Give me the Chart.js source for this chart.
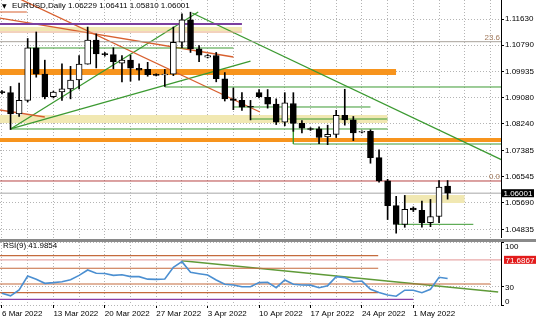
<!DOCTYPE html>
<html>
<head>
<meta charset="utf-8">
<script src="https://cdn.jsdelivr.net/npm/chart.js@4.4.1/dist/chart.umd.min.js"></script>
<style>
  html, body { margin: 0; padding: 0; background: #fff; }
  #wrap { width: 536px; height: 321px; overflow: hidden; }
  canvas { display: block; }
</style>
</head>
<body>
<div id="wrap">
  <canvas id="price" width="536" height="238"></canvas>
  <canvas id="rsi" width="536" height="83"></canvas>
</div>
<script>
"use strict";

// EURUSD daily, this feed has Sunday bars so one week = 6 bars
const barDates = ["6 Mar","7 Mar","8 Mar","9 Mar","10 Mar","11 Mar",
  "13 Mar","14 Mar","15 Mar","16 Mar","17 Mar","18 Mar",
  "20 Mar","21 Mar","22 Mar","23 Mar","24 Mar","25 Mar",
  "27 Mar","28 Mar","29 Mar","30 Mar","31 Mar","1 Apr",
  "3 Apr","4 Apr","5 Apr","6 Apr","7 Apr","8 Apr",
  "10 Apr","11 Apr","12 Apr","13 Apr","14 Apr","15 Apr",
  "17 Apr","18 Apr","19 Apr","20 Apr","21 Apr","22 Apr",
  "24 Apr","25 Apr","26 Apr","27 Apr","28 Apr","29 Apr",
  "1 May","2 May","3 May","4 May","5 May"];

const opens = [1.0927,1.0925,1.0856,1.0900,1.1070,1.0985,
  1.0912,1.0927,1.0937,1.0966,1.1017,1.1095,
  1.1050,1.1048,1.1020,1.1030,1.1004,1.1000,
  1.0983,1.0982,1.0985,1.1088,1.1160,1.1067,
  1.1040,1.1045,1.0970,1.0905,1.0900,1.0878,
  1.0925,1.0910,1.0888,1.0830,1.0890,1.0826,
  1.0808,1.0808,1.0782,1.0790,1.0852,1.0837,
  1.0797,1.0800,1.0715,1.0640,1.0560,1.0499,
  1.0552,1.0545,1.0505,1.0525,1.06229];
const highs = [1.0932,1.0945,1.0956,1.1100,1.1121,1.1030,
  1.0930,1.1018,1.1010,1.1045,1.1137,1.1115,
  1.1055,1.1070,1.1045,1.1046,1.1018,1.1023,
  1.0986,1.1000,1.1137,1.1180,1.1185,1.1077,
  1.1048,1.1055,1.0990,1.0940,1.0925,1.0900,
  1.0935,1.0935,1.0905,1.0925,1.0925,1.0835,
  1.0812,1.0815,1.0820,1.0868,1.0936,1.0848,
  1.0802,1.0805,1.0740,1.0645,1.0590,1.0593,
  1.0556,1.0575,1.0580,1.0641,1.06411];
const lows = [1.0921,1.0806,1.0848,1.0895,1.0975,1.0905,
  1.0908,1.0900,1.0905,1.0937,1.1017,1.1005,
  1.1043,1.1002,1.0960,1.0962,1.0965,1.0978,
  1.0979,1.0945,1.0980,1.1070,1.1055,1.1025,
  1.1037,1.0960,1.0898,1.0870,1.0868,1.0837,
  1.0908,1.0875,1.0822,1.0818,1.0800,1.0795,
  1.0803,1.0760,1.0757,1.0780,1.0820,1.0770,
  1.0795,1.0697,1.0636,1.0515,1.0471,1.0490,
  1.0541,1.0490,1.0492,1.0505,1.05810];
const closes = [1.0925,1.0856,1.0900,1.1070,1.0985,1.0912,
  1.0927,1.0937,1.0966,1.1017,1.1095,1.1050,
  1.1048,1.1025,1.1030,1.1004,1.0998,1.0983,
  1.0981,1.0985,1.1088,1.1160,1.1067,1.1046,
  1.1045,1.0970,1.0905,1.0900,1.0878,1.0878,
  1.0912,1.0888,1.0830,1.0892,1.0826,1.0810,
  1.0806,1.0780,1.0790,1.0852,1.0837,1.0795,
  1.0800,1.0715,1.0640,1.0560,1.0499,1.0548,
  1.0546,1.0505,1.0525,1.0620,1.06001];

const rsiValues = [18.5,14.5,23.8,46,40.7,34.4,
  35.5,37,40,47,55.6,50.3,
  50,47,48,45,45,41,
  40.7,41.3,59.8,68.8,51.9,49.7,
  47.6,39.7,32.8,31.7,29,29,
  35.5,36,27.5,39.7,32.8,31.7,
  31.5,27.5,30.7,45,43.5,37,
  38,25,20,16,14,23.5,
  23.5,19.6,25,44,41.9854];

const priceTicks = [1.11630, 1.10790, 1.09935, 1.09080, 1.08240, 1.07385, 1.06545, 1.05690, 1.04835];
const rsiTicks = [100, 30, 0];
const rsiTickLabels = ["100", "30", "0"];
const weekLabels = ["6 Mar 2022","13 Mar 2022","20 Mar 2022","27 Mar 2022","3 Apr 2022",
  "10 Apr 2022","17 Apr 2022","24 Apr 2022","1 May 2022"];
const weekStarts = [0, 6, 12, 18, 24, 30, 36, 42, 48];
const gridBars = [0,3,6,9,12,15,18,21,24,27,30,33,36,39,42,45,48,51,54,57];

const lastPrice = 1.06001;
const rsiMarker = 71.6867;

// drawn objects, [price, fromBar, toBar]
const greenLevels = [[1.10693, 3, 27], [1.09433, 19, 59], [1.08787, 27, 43], [1.08076, 1, 45], [1.04996, 46.2, 55]];
const purpleLevels = [[1.11468, -1, 28]];
const paleOrangeLevels = [[1.11210, -1, 28]];
const redShortLevels = [[1.11856, -1, 2.9]];
// [top, bottom, fromBar, toBar]
const orangeZones = [[1.10014, 1.09821, -1, 46], [1.07785, 1.07656, -1, 59]];
const yellowZones = [[1.11372, 1.11242, -1, 28], [1.08528, 1.08270, -1, 45], [1.05943, 1.05685, 47, 54]];
// stepped green lines [bar, price]
const greenSteps = [[[29, 1.08755], [29, 1.08399], [45, 1.08399]], [[34, 1.08270], [34, 1.07591], [59, 1.07591]]];
const redTrends = [[[0, 1.12548], [30.1, 1.08625]], [[-0.25, 1.11662], [27, 1.10402]], [[-0.25, 1.08690], [5, 1.08464]]];
const greenTrends = [[[1, 1.08076], [22.9, 1.11856]], [[1, 1.08076], [29, 1.10273]], [[22.2, 1.11824], [59, 1.06990]]];
const fibLevels = [[1.10897, "23.6"], [1.06396, "0.0"]];

// rsi window objects [value, fromBar, toBar]
const rsiOrangeLevels = [[78.3, -1, 43.9], [58.3, -1, 43.9], [33.3, -1, 57], [19.5, -1, 43.9]];
const rsiPurpleLevels = [[9.0, -1, 48]];
const rsiTrend = [[21, 70.3], [57.9, 20.6]];

const xMin = -0.23, xMax = 58.23;
const priceMin = 1.04554, priceMax = 1.12244;

const fontFamily = "'Liberation Sans Narrow', 'Liberation Sans', sans-serif";
const axisFont = { family: fontFamily, size: 8 };
const gridColor = "#b4b4b4";

Chart.defaults.font.family = fontFamily;
Chart.defaults.animation = false;

function lineSet(points, color, width, order) {
  return {
    type: "line",
    data: points.map(p => ({ x: p[0], y: p[1] })),
    borderColor: color,
    borderWidth: width,
    pointRadius: 0,
    tension: 0,
    fill: false,
    order: order === undefined ? 3 : order
  };
}

function levelSet(l, color, width) {
  return lineSet([[l[1], l[0]], [l[2], l[0]]], color, width);
}

function zoneSet(z, color) {
  return {
    type: "line",
    data: [{ x: z[2], y: z[0] }, { x: z[3], y: z[0] }],
    borderWidth: 0,
    borderColor: "rgba(0,0,0,0)",
    backgroundColor: color,
    pointRadius: 0,
    fill: { value: z[1] },
    order: 6
  };
}

// label box sized to its text
function tagBox(ctx, text, x, y, bg) {
  const w = Math.ceil(ctx.measureText(text).width) + 3;
  ctx.fillStyle = bg;
  ctx.fillRect(x, y - 4, w, 8);
  ctx.fillStyle = "#fff";
  ctx.fillText(text, x + 1.5, y + 0.5);
}

// ---- price window

let priceSets = [];
yellowZones.forEach(z => priceSets.push(zoneSet(z, "#f1e8b2")));
orangeZones.forEach(z => priceSets.push(zoneSet(z, "#f7941d")));
priceSets.push(levelSet([lastPrice, -1, 59], "#c4c4c4", 1.5));
fibLevels.forEach(f => priceSets.push(levelSet([f[0], -1, 59], f[1] === "0.0" ? "#b84444" : "#a8a29a", 1)));
purpleLevels.forEach(l => priceSets.push(levelSet(l, "#7b3f9e", 2)));
paleOrangeLevels.forEach(l => priceSets.push(levelSet(l, "#e8a47c", 1)));
redShortLevels.forEach(l => priceSets.push(levelSet(l, "#d8602f", 1.2)));
greenLevels.forEach(l => priceSets.push(levelSet(l, "#3c9a32", 1)));
greenSteps.forEach(s => priceSets.push(lineSet(s, "#3c9a32", 1)));
redTrends.forEach(t => priceSets.push(lineSet(t, "#d8602f", 1.3)));
greenTrends.forEach(t => priceSets.push(lineSet(t, "#3c9a32", 1.3)));

priceSets.push({
  type: "bar",
  data: lows.map((l, i) => ({ x: i, y: [l, highs[i]] })),
  backgroundColor: "#000",
  borderWidth: 0,
  barThickness: 1,
  minBarLength: 1,
  grouped: false,
  order: 1
});
priceSets.push({
  type: "bar",
  data: opens.map((o, i) => ({ x: i, y: [Math.min(o, closes[i]), Math.max(o, closes[i])] })),
  backgroundColor: opens.map((o, i) => closes[i] > o ? "#fff" : "#000"),
  borderColor: "#000",
  borderWidth: 1,
  borderSkipped: false,
  barThickness: 6,
  minBarLength: 1,
  grouped: false,
  order: 0
});

const headerText = "EURUSD,Daily " + [opens, highs, lows, closes].map(a => a[a.length - 1].toFixed(5)).join(" ");

const priceDecor = {
  id: "priceDecor",
  afterDraw(chart) {
    const ctx = chart.ctx;
    const y = chart.scales.y;
    const area = chart.chartArea;
    ctx.save();
    ctx.textBaseline = "middle";
    ctx.textAlign = "left";
    ctx.fillStyle = "#000";
    ctx.font = "6px 'DejaVu Sans'";
    ctx.fillText("\u25BC", 2, 6);
    ctx.font = "8px " + fontFamily;
    ctx.fillText(headerText, 12, 6);

    ctx.fillStyle = "#a0785a";
    ctx.textAlign = "right";
    fibLevels.forEach(f => ctx.fillText(f[1], area.right - 1, y.getPixelForValue(f[0]) - 4));

    ctx.textAlign = "left";
    tagBox(ctx, lastPrice.toFixed(5), area.right + 1, y.getPixelForValue(lastPrice), "#000");
    ctx.restore();
  }
};

new Chart(document.getElementById("price"), {
  type: "bar",
  data: { labels: barDates, datasets: priceSets },
  options: {
    responsive: false,
    devicePixelRatio: 1,
    events: [],
    layout: { padding: 0 },
    plugins: { legend: { display: false }, tooltip: { enabled: false } },
    scales: {
      x: {
        type: "linear", min: xMin, max: xMax, offset: false, bounds: "data",
        afterBuildTicks: s => { s.ticks = gridBars.map(v => ({ value: v })); },
        afterFit: s => { s.height = 0; s.paddingLeft = 0; s.paddingRight = 0; },
        ticks: { display: false },
        grid: { color: gridColor, drawTicks: false, offset: false },
        border: { display: false, dash: [1, 2] }
      },
      y: {
        type: "linear", position: "right", min: priceMin, max: priceMax, bounds: "data",
        afterBuildTicks: s => { s.ticks = priceTicks.map(v => ({ value: v })); },
        afterFit: s => { s.width = 35; s.paddingTop = 0; s.paddingBottom = 0; },
        ticks: { callback: v => v.toFixed(5), color: "#000", font: axisFont, padding: 1, autoSkip: false },
        grid: { color: gridColor, tickColor: "#000", tickLength: 3 },
        border: { display: true, color: "#000", width: 1, dash: [1, 2] }
      }
    }
  },
  plugins: [priceDecor]
});

// ---- RSI window

let rsiSets = [];
rsiSets.push(levelSet([rsiMarker, -1, 59], "#e8aaaa", 1.2));
rsiOrangeLevels.forEach(l => rsiSets.push(levelSet(l, "#c46a3c", 1.2)));
rsiPurpleLevels.forEach(l => rsiSets.push(levelSet(l, "#8a3fa8", 1.2)));
rsiSets.push(lineSet(rsiTrend, "#5f9a38", 1.6));
rsiSets.push(lineSet(rsiValues.map((v, i) => [i, v]), "#4b8fd1", 1.6, 0));

const rsiDecor = {
  id: "rsiDecor",
  afterDraw(chart) {
    const ctx = chart.ctx;
    const y = chart.scales.y;
    const top = chart.chartArea.top;
    const bottom = chart.chartArea.bottom;
    const right = chart.chartArea.right;
    ctx.save();
    ctx.fillStyle = "#8a8a8a";
    ctx.fillRect(0, 1, chart.width, 3);

    ctx.font = "8px " + fontFamily;
    ctx.textBaseline = "middle";
    ctx.textAlign = "left";
    ctx.fillStyle = "#000";
    ctx.fillText("RSI(9) " + rsiValues[rsiValues.length - 1].toFixed(4), 3, 8);

    // MT4 keeps the scale texts inside the window
    for (let k = 0; k < rsiTicks.length; k++) {
      const py = y.getPixelForValue(rsiTicks[k]) + 2;
      const ty = py < top + 5 ? top + 5 : (py > bottom - 3 ? bottom - 3 : py);
      ctx.fillStyle = "#000";
      ctx.fillText(rsiTickLabels[k], right + 4, ty);
    }

    tagBox(ctx, rsiMarker.toFixed(4), right + 3, y.getPixelForValue(rsiMarker), "#e21b1b");
    ctx.restore();
  }
};

new Chart(document.getElementById("rsi"), {
  type: "line",
  data: { labels: barDates, datasets: rsiSets },
  options: {
    responsive: false,
    devicePixelRatio: 1,
    events: [],
    layout: { padding: { top: 4, left: 0, right: 0, bottom: 0 } },
    plugins: { legend: { display: false }, tooltip: { enabled: false } },
    scales: {
      x: {
        type: "linear", min: xMin, max: xMax, offset: false, bounds: "data",
        afterBuildTicks: s => { s.ticks = gridBars.map(v => ({ value: v })); },
        afterFit: s => { s.height = 16; s.paddingLeft = 0; s.paddingRight = 0; },
        ticks: {
          autoSkip: false, minRotation: 0, maxRotation: 0, align: "start", padding: 1,
          color: "#000", font: axisFont,
          callback: v => { const k = weekStarts.indexOf(v); return k >= 0 ? weekLabels[k] : ""; }
        },
        grid: {
          color: gridColor, tickLength: 3, offset: false,
          tickColor: c => (c.tick && weekStarts.includes(c.tick.value)) ? "#000" : "rgba(0,0,0,0)"
        },
        border: { display: false, dash: [1, 2] }
      },
      y: {
        type: "linear", position: "right", min: 0, max: 100, bounds: "data",
        afterBuildTicks: s => { s.ticks = rsiTicks.map(v => ({ value: v })); },
        afterFit: s => { s.width = 35; s.paddingTop = 0; s.paddingBottom = 0; },
        ticks: { display: false },
        grid: { color: gridColor, tickColor: "#000", tickLength: 3 },
        border: { display: true, color: "#000", width: 1, dash: [1, 2] }
      }
    }
  },
  plugins: [rsiDecor]
});
</script>
</body>
</html>
